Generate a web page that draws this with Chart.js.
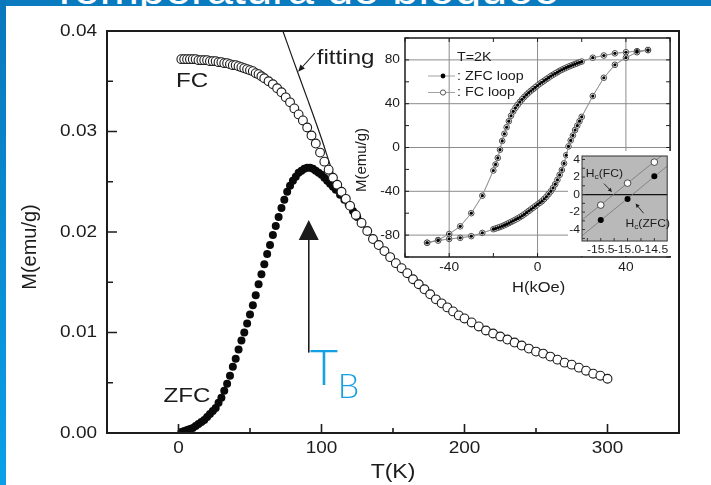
<!DOCTYPE html>
<html>
<head>
<meta charset="utf-8">
<script src="https://cdn.jsdelivr.net/npm/chart.js@4.4.1/dist/chart.umd.min.js"></script>
<style>
  html, body { margin: 0; padding: 0; background: #fff; }
  #wrap { position: relative; width: 711px; height: 485px; overflow: hidden; background: #fff; }
  #band { position: absolute; left: 0; top: 0; width: 711px; height: 6px; background: #0a7bbf; overflow: hidden; z-index: 5; }
  #band span { position: absolute; left: 50px; top: -36px; font: 47px/47px "Liberation Sans", Arial, sans-serif; color: #fff; white-space: nowrap; }
  #strip { position: absolute; left: 0; top: 0; width: 6px; height: 485px; background: linear-gradient(#0a77bc, #0aa0e8); z-index: 5; }
  canvas { position: absolute; }
  #main { left: 0; top: 0; }
  #inset { left: 355px; top: 33px; }
  #hc { left: 568px; top: 151px; background: #fff; }
</style>
</head>
<body>
<div id="wrap">
  <canvas id="main" width="711" height="485"></canvas>
  <canvas id="inset" width="320" height="265"></canvas>
  <canvas id="hc" width="104" height="105"></canvas>
  <div id="band"><span>Temperatura de bloqueo</span></div>
  <div id="strip"></div>
</div>
<script>
// M(T) curves, field cooled and zero field cooled
const fcT = [2,4,6,8,10,12,14,16,18,20,22,24,26,28,30,32,34,36,38,40,42,44,46,48,50,52,54,56,58,60,
  63,66,69,72,75,78,81,84,87,90,93,96,99,102,105,108,111,114,117,120,
  124,128,132,136,140,144,148,152,156,160,164,168,172,176,180,184,188,192,196,200,
  205,210,215,220,225,230,235,240,245,250,255,260,265,270,275,280,285,290,295,300];
const fcM = [0.0372,0.0372,0.0372,0.0372,0.0372,0.0372,0.0371,0.0371,0.0371,0.0371,0.0370,0.0370,0.0370,0.0369,0.0369,
  0.0368,0.0368,0.0367,0.0366,0.0366,0.0365,0.0364,0.0363,0.0362,0.0361,0.0360,0.0358,0.0357,0.0355,0.0353,
  0.0350,0.0347,0.0343,0.0339,0.0334,0.0329,0.0323,0.0317,0.0311,0.0304,0.0296,0.0288,0.0279,0.0270,0.0262,
  0.0254,0.0247,0.0240,0.0233,0.0226,
  0.0217,0.0209,0.0201,0.0193,0.0187,0.0181,0.0175,0.0169,0.0164,0.0159,0.0153,0.0148,0.0143,0.0138,0.0133,
  0.0129,0.0125,0.0121,0.0117,0.0114,
  0.0110,0.0106,0.0102,0.0099,0.0096,0.0093,0.0090,0.0087,0.0084,0.0081,0.0079,0.0076,0.0073,0.0070,0.0068,
  0.0065,0.0062,0.0059,0.0057,0.0054];

const zfcT = [2,4,6,8,10,12,14,16,18,20,22,24,26,28,30,32,34,36,38,40,42,44,46,48,50,52,54,56,58,60,
  62,64,66,68,70,72,74,76,78,80,82,84,86,88,90,92,94,96,98,100,102,104,106,108,110,
  113,116,119,122,125,128];
const zfcM = [0.0001,0.0002,0.0003,0.0004,0.0005,0.0007,0.0009,0.0011,0.0013,0.0016,0.0019,0.0022,0.0025,0.0030,0.0035,
  0.0042,0.0049,0.0057,0.0066,0.0074,0.0083,0.0092,0.0100,0.0109,0.0118,0.0127,0.0137,0.0148,0.0158,0.0168,
  0.0178,0.0187,0.0197,0.0206,0.0215,0.0224,0.0232,0.0240,0.0246,0.0251,0.0255,0.0259,0.0261,0.0263,0.0264,
  0.0264,0.0263,0.0261,0.0259,0.0257,0.0254,0.0251,0.0248,0.0245,0.0242,
  0.0237,0.0232,0.0227,0.0221,0.0215,0.0209];

const fitT = [73,80,90,100,108,115,125,140,160,180,200,225,250,275,300];
const fitM = [0.0400,0.0372,0.0333,0.0293,0.0259,0.0238,0.0214,0.0187,0.0159,0.0133,0.0114,0.0096,0.0081,0.0068,0.0054];

const xTicks = [0,100,200,300];
const xTickLabels = ['0','100','200','300'];
const xMinor = [50,150,250];
const yTicks = [0,0.01,0.02,0.03,0.04];
const yTickLabels = ['0.00','0.01','0.02','0.03','0.04'];
const yMinor = [0.005,0.015,0.025,0.035];

// hysteresis loop at 2 K (ZFC and FC loops lie on top of each other at this scale)
const loopDescH = [50,45,40,35,30,25,20,19,18,17,16,15,14,13,12,11,10,9,8,7,6,5,4,3,2,1,0,
  -1,-2,-3,-4,-5,-6,-7,-8,-9,-10,-11,-12,-13,-14,-15,-16,-17,-18,-19,-20,-25,-30,-35,-40,-45,-50];
const loopDescM = [89,88,87,86,84,82,78.5,77.8,77,76.2,75.4,74.6,73.8,72.9,72,71,70,68.8,67.6,66.4,65.2,63.8,62.4,61,59.6,58.2,56.6,
  55,53.4,51.8,50.1,48.2,46.2,44,41.6,39,36.2,33,29,24,18.5,12.5,6,-2,-9.5,-15.5,-21,-44,-60,-72,-79,-84.5,-87];
const loopAscH = [-50,-45,-40,-35,-30,-25,-20,-19,-18,-17,-16,-15,-14,-13,-12,-11,-10,-9,-8,-7,-6,-5,-4,-3,-2,-1,0,
  1,2,3,4,5,6,7,8,9,10,11,12,13,14,15,16,17,18,19,20,25,30,35,40,45,50];
const loopAscM = [-87,-85,-83.5,-82.5,-81,-78,-74.6,-74,-73.3,-72.6,-71.8,-70.9,-70,-69,-68,-67,-65.9,-64.8,-63.6,-62.4,-61,-59.5,-58,-56.5,-55,-53.5,-52,
  -50.5,-49,-47,-45,-42.5,-40,-37,-33.5,-29.5,-25,-20.5,-14.5,-7,1,6.5,11,16,20,24,28,47,63.7,75.5,82,87,89];

const loopXTicks = [-40,0,40];
const loopXLabels = ['-40','0','40'];
const loopYTicks = [-80,-40,0,40,80];
const loopYLabels = ['-80','-40','0','40','80'];

// coercive field close-up
const hcH = [-15.5,-15.0,-14.5];
const hcFC = [-1.2,1.3,3.7];
const hcZFC = [-2.9,-0.5,2.1];
const hcFitH = [-15.85,-14.25];
const hcFitFC = [-2.9,5.0];
const hcFitZFC = [-4.7,3.3];
const hcXTicks = [-15.5,-15.0,-14.5];
const hcXLabels = ['-15.5','-15.0','-14.5'];
const hcYTicks = [-4,-2,0,2,4];
const hcYLabels = ['-4','-2','0','2','4'];

const ink = '#1c1c1c';
const sans = '"Liberation Sans", Arial, sans-serif';
const pts = (xs, ys) => xs.map((x, i) => ({ x: x, y: ys[i] }));

function label(ctx, s, x, y, size, align, sx, rot, color) {
  ctx.save();
  ctx.translate(x, y);
  if (rot) ctx.rotate(rot);
  ctx.scale(sx || 1, 1);
  ctx.font = size + 'px ' + sans;
  ctx.textAlign = align || 'center';
  ctx.textBaseline = 'middle';
  ctx.fillStyle = color || ink;
  ctx.fillText(s, 0, 0);
  ctx.restore();
}

function arrow(ctx, x1, y1, x2, y2, len, half, width) {
  const a = Math.atan2(y2 - y1, x2 - x1);
  const bx = x2 - len * Math.cos(a), by = y2 - len * Math.sin(a);
  ctx.save();
  ctx.strokeStyle = ink; ctx.fillStyle = ink; ctx.lineWidth = width;
  ctx.beginPath(); ctx.moveTo(x1, y1); ctx.lineTo(bx, by); ctx.stroke();
  ctx.beginPath();
  ctx.moveTo(x2, y2);
  ctx.lineTo(bx + half * Math.sin(a), by - half * Math.cos(a));
  ctx.lineTo(bx - half * Math.sin(a), by + half * Math.cos(a));
  ctx.closePath(); ctx.fill();
  ctx.restore();
}

// H with a subscript c, then the rest of the text
function hcLabel(ctx, rest, x, y, size) {
  ctx.save();
  ctx.translate(x, y);
  ctx.scale(1.1, 1);
  ctx.fillStyle = ink;
  ctx.textBaseline = 'middle';
  ctx.textAlign = 'left';
  ctx.font = size + 'px ' + sans;
  ctx.fillText('H', 0, 0);
  let w = ctx.measureText('H').width;
  ctx.font = (size * 0.7) + 'px ' + sans;
  ctx.fillText('c', w, size * 0.35);
  w += ctx.measureText('c').width;
  ctx.font = size + 'px ' + sans;
  ctx.fillText(rest, w, 0);
  ctx.restore();
}

function axisTicks(ctx, scale, values, len, side, area) {
  values.forEach(v => {
    const p = scale.getPixelForValue(v);
    if (side === 'left') { ctx.moveTo(area.left, p); ctx.lineTo(area.left + len, p); }
    if (side === 'right') { ctx.moveTo(area.right, p); ctx.lineTo(area.right - len, p); }
    if (side === 'bottom') { ctx.moveTo(p, area.bottom); ctx.lineTo(p, area.bottom - len); }
    if (side === 'top') { ctx.moveTo(p, area.top); ctx.lineTo(p, area.top + len); }
  });
}

const mainDecor = {
  id: 'mainDecor',
  afterDraw(chart) {
    const { ctx, chartArea: a, scales: { x, y } } = chart;
    ctx.save();
    ctx.strokeStyle = ink;
    ctx.lineWidth = 2;
    ctx.strokeRect(a.left, a.top, a.right - a.left, a.bottom - a.top);
    ctx.lineWidth = 1.6;
    ctx.beginPath();
    axisTicks(ctx, y, yTicks, 10, 'left', a);
    axisTicks(ctx, y, yMinor, 6, 'left', a);
    axisTicks(ctx, x, xTicks, 9, 'bottom', a);
    axisTicks(ctx, x, xMinor, 5, 'bottom', a);
    ctx.stroke();
    ctx.restore();

    yTicks.forEach((v, i) => label(ctx, yTickLabels[i], a.left - 10, y.getPixelForValue(v), 16.5, 'right', 1.15));
    xTicks.forEach((v, i) => label(ctx, xTickLabels[i], x.getPixelForValue(v), a.bottom + 15, 16.5, 'center', 1.15));
    label(ctx, 'T(K)', (a.left + a.right) / 2, a.bottom + 39, 20, 'center', 1.15);
    label(ctx, 'M(emu/g)', 30, 247, 20, 'center', 1, -Math.PI / 2);

    // curve names and the fitting pointer
    label(ctx, 'FC', x.getPixelForValue(9.5), y.getPixelForValue(0.0350), 21, 'center', 1.15);
    label(ctx, 'ZFC', x.getPixelForValue(6), y.getPixelForValue(0.0037), 21, 'center', 1.15);
    label(ctx, 'fitting', x.getPixelForValue(96.7), y.getPixelForValue(0.0373), 21, 'left', 1.15);
    arrow(ctx, x.getPixelForValue(95.3), y.getPixelForValue(0.0378),
      x.getPixelForValue(83.6), y.getPixelForValue(0.03595), 7, 3, 1.1);

    // blocking temperature marker
    const tb = x.getPixelForValue(91.1);
    const tip = y.getPixelForValue(0.0212);
    ctx.save();
    ctx.strokeStyle = ink; ctx.fillStyle = ink; ctx.lineWidth = 1.6;
    ctx.beginPath(); ctx.moveTo(tb, y.getPixelForValue(0.0080)); ctx.lineTo(tb, tip + 18); ctx.stroke();
    ctx.beginPath(); ctx.moveTo(tb, tip); ctx.lineTo(tb - 10, tip + 20); ctx.lineTo(tb + 10, tip + 20); ctx.closePath(); ctx.fill();
    ctx.fillStyle = '#15a0e4';
    ctx.textBaseline = 'alphabetic'; ctx.textAlign = 'left';
    ctx.font = '300 49px Lato, ' + sans;
    ctx.fillText('T', x.getPixelForValue(91.8), y.getPixelForValue(0.00478));
    ctx.font = '300 34px Lato, ' + sans;
    ctx.fillText('B', x.getPixelForValue(111.4), y.getPixelForValue(0.00348));
    ctx.restore();
  }
};

new Chart(document.getElementById('main'), {
  type: 'scatter',
  data: {
    datasets: [
      { label: 'FC', data: pts(fcT, fcM), showLine: false, pointRadius: 4.4,
        pointBackgroundColor: '#fff', pointBorderColor: '#1a1a1a', pointBorderWidth: 1.1, order: 1 },
      { label: 'ZFC', data: pts(zfcT, zfcM), showLine: false, pointRadius: 4,
        pointBackgroundColor: '#0a0a0a', pointBorderWidth: 0, order: 2 },
      { label: 'fitting', data: pts(fitT, fitM), showLine: true, pointRadius: 0,
        borderColor: '#1a1a1a', borderWidth: 1.2, cubicInterpolationMode: 'monotone', order: 3 }
    ]
  },
  options: {
    responsive: false, animation: false, events: [], devicePixelRatio: 1,
    layout: { padding: { top: 31, right: 32, left: 0, bottom: 0 } },
    plugins: { legend: { display: false }, tooltip: { enabled: false } },
    scales: {
      x: { type: 'linear', min: -50, max: 350, grid: { display: false }, border: { display: false },
        ticks: { display: false }, afterFit(s) { s.height = 52; } },
      y: { type: 'linear', min: 0, max: 0.04, grid: { display: false }, border: { display: false },
        ticks: { display: false }, afterFit(s) { s.width = 107; } }
    }
  },
  plugins: [mainDecor]
});

const loopDecor = {
  id: 'loopDecor',
  beforeDatasetsDraw(chart) {
    const { ctx, chartArea: a, scales: { x, y } } = chart;
    ctx.save();
    ctx.strokeStyle = '#8c8c8c';
    ctx.lineWidth = 1;
    ctx.beginPath();
    loopXTicks.forEach(v => { const p = x.getPixelForValue(v); ctx.moveTo(p, a.top); ctx.lineTo(p, a.bottom); });
    loopYTicks.forEach(v => { const p = y.getPixelForValue(v); ctx.moveTo(a.left, p); ctx.lineTo(a.right, p); });
    ctx.stroke();
    ctx.restore();
  },
  afterDraw(chart) {
    const { ctx, chartArea: a, scales: { x, y } } = chart;
    ctx.save();
    ctx.strokeStyle = ink;
    ctx.lineWidth = 1.5;
    ctx.strokeRect(a.left, a.top, a.right - a.left, a.bottom - a.top);
    ctx.lineWidth = 1;
    ctx.beginPath();
    const minorX = [-60,-40,-20,0,20,40,60];
    const minorY = [-100,-80,-60,-40,-20,0,20,40,60,80,100];
    axisTicks(ctx, x, minorX, 4, 'bottom', a);
    axisTicks(ctx, x, minorX, 4, 'top', a);
    axisTicks(ctx, y, minorY, 4, 'left', a);
    axisTicks(ctx, y, minorY, 4, 'right', a);
    ctx.stroke();
    ctx.restore();

    loopYTicks.forEach((v, i) => label(ctx, loopYLabels[i], a.left - 5, y.getPixelForValue(v), 12.5, 'right', 1.1));
    loopXTicks.forEach((v, i) => label(ctx, loopXLabels[i], x.getPixelForValue(v), a.bottom + 11, 12.5, 'center', 1.1));
    label(ctx, 'H(kOe)', x.getPixelForValue(0.5), a.bottom + 31, 15, 'center', 1.1);
    label(ctx, 'M(emu/g)', a.left - 43, 127, 15, 'center', 1, -Math.PI / 2);

    // legend
    label(ctx, 'T=2K', a.left + 52, a.top + 19, 13, 'left', 1.1);
    const rows = [a.top + 38, a.top + 54.5];
    ctx.save();
    ctx.strokeStyle = '#8a8a8a'; ctx.lineWidth = 0.8;
    rows.forEach(r => { ctx.beginPath(); ctx.moveTo(a.left + 23, r); ctx.lineTo(a.left + 50, r); ctx.stroke(); });
    ctx.fillStyle = '#000';
    ctx.beginPath(); ctx.arc(a.left + 38, rows[0], 2.4, 0, 2 * Math.PI); ctx.fill();
    ctx.fillStyle = '#fff'; ctx.strokeStyle = '#444'; ctx.lineWidth = 0.9;
    ctx.beginPath(); ctx.arc(a.left + 38, rows[1], 2.6, 0, 2 * Math.PI); ctx.fill(); ctx.stroke();
    ctx.restore();
    label(ctx, ': ZFC loop', a.left + 52, rows[0], 13, 'left', 1.1);
    label(ctx, ': FC loop', a.left + 52, rows[1], 13, 'left', 1.1);
  }
};

const fcLoop = pts(loopDescH, loopDescM).concat(pts(loopAscH, loopAscM));
const zfcLoop = pts(loopDescH, loopDescM).concat(pts(loopAscH, loopAscM));

new Chart(document.getElementById('inset'), {
  type: 'scatter',
  data: {
    datasets: [
      { label: 'ZFC loop', data: zfcLoop, showLine: true, borderColor: '#8a8a8a', borderWidth: 0.7,
        pointRadius: 1.6, pointBackgroundColor: '#000', pointBorderWidth: 0, order: 1 },
      { label: 'FC loop', data: fcLoop, showLine: true, borderColor: '#9a9a9a', borderWidth: 0.8,
        pointRadius: 2.8, pointBackgroundColor: '#fff', pointBorderColor: '#3a3a3a', pointBorderWidth: 0.9, order: 2 }
    ]
  },
  options: {
    responsive: false, animation: false, events: [], devicePixelRatio: 1,
    layout: { padding: { top: 5, right: 2, left: 0, bottom: 0 } },
    plugins: { legend: { display: false }, tooltip: { enabled: false } },
    scales: {
      x: { type: 'linear', min: -60, max: 60, grid: { display: false }, border: { display: false },
        ticks: { display: false }, afterFit(s) { s.height = 41; } },
      y: { type: 'linear', min: -100, max: 100, grid: { display: false }, border: { display: false },
        ticks: { display: false }, afterFit(s) { s.width = 50; } }
    }
  },
  plugins: [loopDecor]
});

const hcDecor = {
  id: 'hcDecor',
  beforeDatasetsDraw(chart) {
    const { ctx, chartArea: a, scales: { y } } = chart;
    ctx.save();
    ctx.fillStyle = '#b9b9b9';
    ctx.fillRect(a.left, a.top, a.right - a.left, a.bottom - a.top);
    ctx.strokeStyle = '#111'; ctx.lineWidth = 1.2;
    ctx.beginPath(); ctx.moveTo(a.left, y.getPixelForValue(0)); ctx.lineTo(a.right, y.getPixelForValue(0)); ctx.stroke();
    ctx.restore();
  },
  afterDraw(chart) {
    const { ctx, chartArea: a, scales: { x, y } } = chart;
    ctx.save();
    ctx.strokeStyle = '#333';
    ctx.lineWidth = 1;
    ctx.strokeRect(a.left, a.top, a.right - a.left, a.bottom - a.top);
    ctx.beginPath();
    axisTicks(ctx, x, [-15.75,-15.5,-15.25,-15.0,-14.75,-14.5], 3, 'bottom', a);
    axisTicks(ctx, y, [-5,-4,-3,-2,-1,0,1,2,3,4], 3, 'left', a);
    ctx.stroke();
    ctx.restore();

    hcYTicks.forEach((v, i) => label(ctx, hcYLabels[i], a.left - 2, y.getPixelForValue(v), 11, 'right', 1.1));
    hcXTicks.forEach((v, i) => label(ctx, hcXLabels[i], x.getPixelForValue(v), a.bottom + 9, 11, 'center', 1.1));

    hcLabel(ctx, '(FC)', x.getPixelForValue(-15.78), y.getPixelForValue(2.4), 11);
    arrow(ctx, x.getPixelForValue(-15.44), y.getPixelForValue(1.25), x.getPixelForValue(-15.29), y.getPixelForValue(0.3), 4, 2, 0.9);
    hcLabel(ctx, '(ZFC)', x.getPixelForValue(-15.04), y.getPixelForValue(-3.3), 11);
    arrow(ctx, x.getPixelForValue(-14.70), y.getPixelForValue(-2.14), x.getPixelForValue(-14.85), y.getPixelForValue(-1.03), 4, 2, 0.9);
  }
};

new Chart(document.getElementById('hc'), {
  type: 'scatter',
  data: {
    datasets: [
      { label: 'FC fit', data: pts(hcFitH, hcFitFC), showLine: true, pointRadius: 0, borderColor: '#767676', borderWidth: 0.8, order: 4 },
      { label: 'ZFC fit', data: pts(hcFitH, hcFitZFC), showLine: true, pointRadius: 0, borderColor: '#767676', borderWidth: 0.8, order: 3 },
      { label: 'FC', data: pts(hcH, hcFC), showLine: false, pointRadius: 3.3,
        pointBackgroundColor: '#fff', pointBorderColor: '#222', pointBorderWidth: 0.8, order: 2 },
      { label: 'ZFC', data: pts(hcH, hcZFC), showLine: false, pointRadius: 3,
        pointBackgroundColor: '#000', pointBorderWidth: 0, order: 1 }
    ]
  },
  options: {
    responsive: false, animation: false, events: [], devicePixelRatio: 1,
    layout: { padding: { top: 5, right: 0, left: 0, bottom: 0 } },
    plugins: { legend: { display: false }, tooltip: { enabled: false } },
    scales: {
      x: { type: 'linear', min: -15.85, max: -14.26, grid: { display: false }, border: { display: false },
        ticks: { display: false }, afterFit(s) { s.height = 15; } },
      y: { type: 'linear', min: -5.3, max: 4.4, grid: { display: false }, border: { display: false },
        ticks: { display: false }, afterFit(s) { s.width = 14; } }
    }
  },
  plugins: [hcDecor]
});
</script>
</body>
</html>
